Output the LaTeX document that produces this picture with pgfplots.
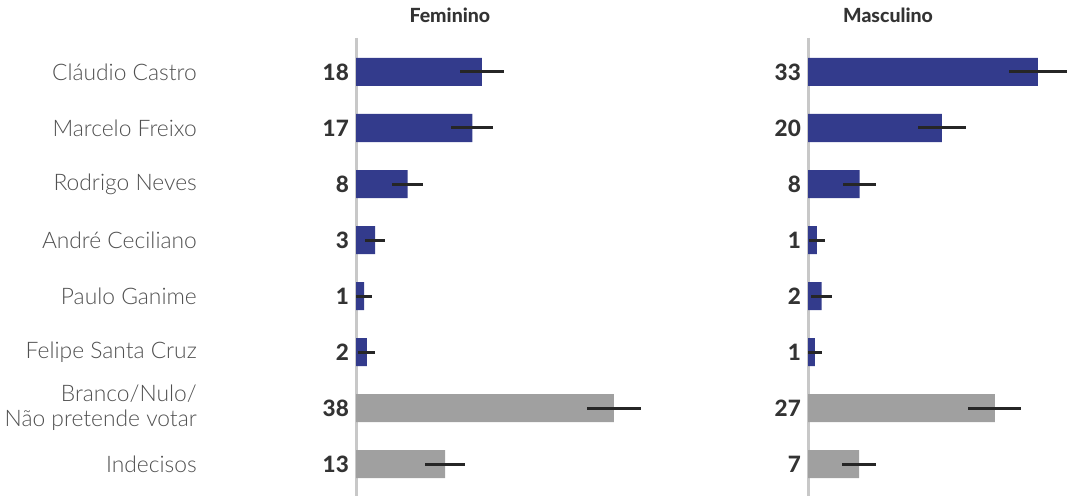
\documentclass[border=0pt]{standalone}
\usepackage{pgfplots}
\pgfplotsset{compat=1.18}
\usepackage{pgfplotstable}
\usepackage{fontspec}
\setmainfont{Lato}
\newfontfamily\lightfont{Lato Light}
\newfontfamily\heavyfont{Lato Heavy}

\definecolor{barblue}{RGB}{51,59,140}
\definecolor{bargray}{RGB}{160,160,160}
\definecolor{axisgray}{RGB}{200,200,200}
\definecolor{namegray}{RGB}{80,80,80}
\definecolor{numgray}{RGB}{51,51,51}

% row, value, margin
\pgfplotstableread{
y x e
0 18.5 3.2
1 17.1 3.1
2 7.6 2.3
3 2.8 1.5
4 1.2 1.2
5 1.6 1.25
}\femcand
\pgfplotstableread{
y x e
6 37.9 4.0
7 13.1 2.9
}\femother
\pgfplotstableread{
y x e
0 33.8 4.3
1 19.7 3.5
2 7.6 2.4
3 1.3 1.2
4 2.0 1.5
5 1.0 1.0
}\mascand
\pgfplotstableread{
y x e
6 27.5 3.9
7 7.5 2.5
}\masother

\pgfplotsset{
  panel/.style={
    scale only axis,
    height=458pt,
    xmin=0,
    ymin=-0.607, ymax=7.571,
    y dir=reverse,
    xbar, bar width=0.5, bar shift=0pt,
    axis x line=none,
    axis y line=left,
    axis line style={-, axisgray, line width=3pt},
    ytick={0,...,7},
    major tick length=0pt,
    yticklabel style={font=\fontsize{22.5}{24}\selectfont\heavyfont\color{numgray}, inner sep=0pt, xshift=-7pt},
    title style={font=\fontsize{19.5}{22}\selectfont\heavyfont\color{numgray}, anchor=base, inner sep=0pt, yshift=9pt},
    clip=false,
  },
  errs/.style={
    draw=none,
    error bars/.cd, x dir=both, x explicit, error mark=none,
    error bar style={line width=3pt, black!85},
  },
}

\begin{document}
\begin{tikzpicture}[x=1pt,y=1pt]
\useasboundingbox (0,0) rectangle (1067,496);

\begin{axis}[panel,
  at={(356pt,0pt)}, anchor=south west,
  width=300pt, xmax=44.1,
  yticklabels={18,17,8,3,1,2,38,13},
  title={Feminino},
  title style={at={(axis description cs:0.313,1)}},
]
\addplot[fill=barblue, draw=none] table[x=x, y=y] {\femcand};
\addplot[fill=bargray, draw=none] table[x=x, y=y] {\femother};
\addplot[errs] table[x=x, y=y, x error=e] {\femcand};
\addplot[errs] table[x=x, y=y, x error=e] {\femother};

\begin{scope}[every node/.style={anchor=east, align=right, inner sep=0pt,
    font=\fontsize{22.8}{25}\selectfont\lightfont, text=namegray, xshift=-159pt}]
\node at (axis cs:0,0) {Cláudio Castro};
\node at (axis cs:0,1) {Marcelo Freixo};
\node at (axis cs:0,2) {Rodrigo Neves};
\node at (axis cs:0,3) {André Ceciliano};
\node at (axis cs:0,4) {Paulo Ganime};
\node at (axis cs:0,5) {Felipe Santa Cruz};
\node at (axis cs:0,6) {Branco/Nulo/\\Não pretende votar};
\node at (axis cs:0,7) {Indecisos};
\end{scope}
\end{axis}

\begin{axis}[panel,
  at={(808pt,0pt)}, anchor=south west,
  width=259pt, xmax=38.1,
  yticklabels={33,20,8,1,2,1,27,7},
  title={Masculino},
  title style={at={(axis description cs:0.309,1)}},
]
\addplot[fill=barblue, draw=none] table[x=x, y=y] {\mascand};
\addplot[fill=bargray, draw=none] table[x=x, y=y] {\masother};
\addplot[errs] table[x=x, y=y, x error=e] {\mascand};
\addplot[errs] table[x=x, y=y, x error=e] {\masother};
\end{axis}
\end{tikzpicture}
\end{document}
